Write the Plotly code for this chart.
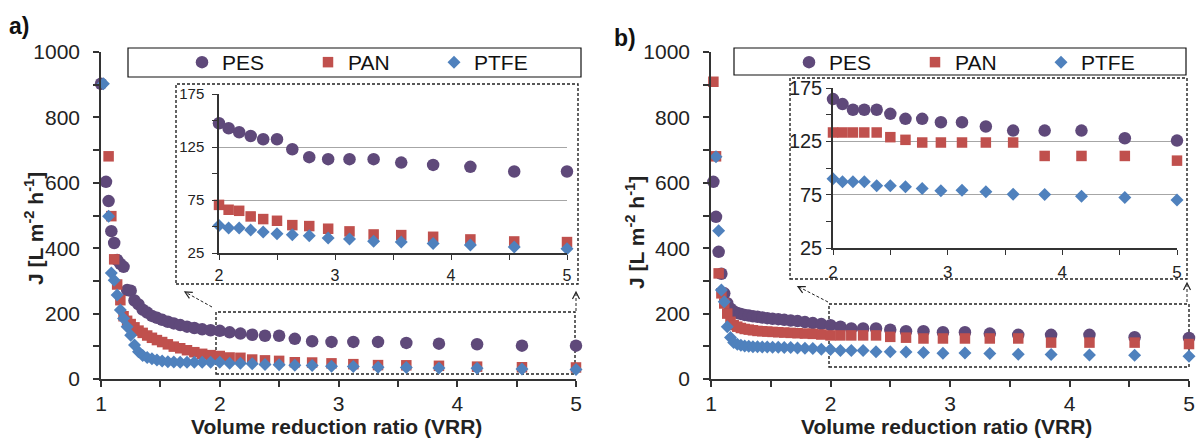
import math
import plotly.graph_objects as go

W, H = 1196, 438

# ---------------- data ----------------
VRR = [1.000, 1.020, 1.042, 1.064, 1.087, 1.111, 1.136, 1.163, 1.190, 1.220,
       1.250, 1.282, 1.316, 1.351, 1.389, 1.429, 1.471, 1.515, 1.563, 1.613,
       1.667, 1.724, 1.786, 1.852, 1.923, 2.000, 2.083, 2.174, 2.273, 2.381,
       2.500, 2.632, 2.778, 2.941, 3.125, 3.333, 3.571, 3.846, 4.167, 4.545,
       5.000]

# panel a)
PES_A = [903, None, 603, 544, 452, 416, 364, 352, 343, 272,
         270, 240, 228, 212, 203, 193, 187, 181, 175, 170,
         165, 160, 156, 152, 149, 147.4, 142.7, 138.9, 135.4, 132.3,
         132.3, 122.9, 115.4, 113.5, 113.5, 113.5, 110.3, 108.1, 106.3, 101.9,
         101.9]
PAN_A = [None, None, None, 681, 498, 366, 289, 241, 192, 178,
         168, 158, 148, 141, 133, 126, 119, 113, 106, 99,
         94, 88, 82, 77, 73, 70.4, 65.8, 64.8, 59.5, 57.0,
         55.4, 51.3, 50.4, 47.9, 45.4, 42.5, 41.9, 40.3, 37.8, 35.9,
         35.3]
PTFE_A = [None, 903, None, 498, 324, 302, 257, 211, 185, 160,
          134, 104, 83, 72, 66, 62, 58, 55, 53, 52,
          51, 51, 51, 51, 51, 51.0, 48.5, 48.5, 46.6, 44.7,
          43.2, 42.2, 41.3, 39.1, 38.2, 36.0, 35.3, 34.0, 32.5, 30.6,
          29.0]

# panel b)
PES_B = [None, 603, 496, 389, 322, 262, 232, 215, 207, 202,
         199, 196, 194, 192, 190, 188, 186, 184, 183, 181,
         179, 177, 174, 171, 168, 164.6, 159.9, 154.6, 154.6, 154.6,
         150.8, 146.1, 146.1, 142.9, 142.9, 138.9, 135.1, 135.1, 135.1, 127.9,
         125.7]
PAN_B = [None, 909, 681, 323, 262, 231, 200, 175, 165, 160,
         156, 153, 151, 149, 147, 146, 145, 144, 143, 142,
         141, 140, 139, 138, 136, 133.3, 133.3, 133.3, 133.3, 133.3,
         128.9, 126.4, 123.9, 123.9, 123.9, 123.9, 123.9, 111.3, 111.3, 111.3,
         106.9]
PTFE_B = [None, None, 680, 453, 272, 236, 160, 127, 112, 106,
          103, 101, 100, 99, 99, 98, 98, 97, 97, 96,
          96, 95, 94, 93, 91, 89.9, 87.1, 87.1, 87.1, 83.3,
          83.3, 82.4, 80.8, 78.6, 79.2, 77.7, 75.5, 75.2, 73.6, 72.4,
          69.9]

SERIES = ["PES", "PAN", "PTFE"]
INSET_FROM = 25  # first index shown in the zoomed inset (VRR = 2)

X_TICKS_MAIN = [1, 2, 3, 4, 5]
Y_TICKS_MAIN = [0, 200, 400, 600, 800, 1000]
X_TICKS_INSET = [2, 3, 4, 5]
Y_TICKS_INSET = [25, 75, 125, 175]

# ---------------- style ----------------
FONT = "Liberation Sans, Arial, sans-serif"
COLORS = {"PES": "#5F497A", "PAN": "#C0504D", "PTFE": "#4F81BD"}
SYMBOLS = {"PES": "circle", "PAN": "square", "PTFE": "diamond"}
SIZES = {"PES": 12.5, "PAN": 10.5, "PTFE": 10}
AXC = "#333333"
TXT = "#222222"


def fx(p):
    return p / W


def fy(p):
    return 1 - p / H


fig = go.Figure()

panels = [
    ({"PES": PES_A, "PAN": PAN_A, "PTFE": PTFE_A}, "x", "y", "x3", "y3", "legend"),
    ({"PES": PES_B, "PAN": PAN_B, "PTFE": PTFE_B}, "x2", "y2", "x4", "y4", "legend2"),
]

for data, xm, ym, xi, yi, leg in panels:
    for s in SERIES:
        fig.add_trace(go.Scatter(
            x=VRR, y=data[s], mode="markers", name=s, legend=leg,
            xaxis=xm, yaxis=ym, cliponaxis=False,
            marker=dict(symbol=SYMBOLS[s], color=COLORS[s], size=SIZES[s], line=dict(width=0)),
        ))
    for s in SERIES:
        fig.add_trace(go.Scatter(
            x=VRR[INSET_FROM:], y=data[s][INSET_FROM:], mode="markers", name=s,
            showlegend=False, xaxis=xi, yaxis=yi, cliponaxis=False,
            marker=dict(symbol=SYMBOLS[s], color=COLORS[s], size=SIZES[s], line=dict(width=0)),
        ))


def main_x(dom, anchor):
    return dict(domain=dom, anchor=anchor, range=[1, 5], tickvals=X_TICKS_MAIN, automargin=False,
                showline=True, linecolor=AXC, linewidth=1.5, ticks="outside", ticklen=6,
                tickcolor=AXC, tickwidth=1.5, showgrid=False, zeroline=False,
                tickfont=dict(size=21, color=TXT), ticklabelstandoff=-1,
                minor=dict(dtick=0.5, tick0=1, ticks="outside", ticklen=6, tickcolor=AXC, tickwidth=1.5))


def main_y(dom, anchor):
    return dict(domain=dom, anchor=anchor, range=[0, 1000], tickvals=Y_TICKS_MAIN, automargin=False,
                showline=True, linecolor=AXC, linewidth=1.5, ticks="outside", ticklen=6,
                tickcolor=AXC, tickwidth=1.5, showgrid=False, zeroline=False,
                tickfont=dict(size=21, color=TXT), ticklabelstandoff=9,
                minor=dict(dtick=100, tick0=0, ticks="outside", ticklen=6, tickcolor=AXC, tickwidth=1.5))


def inset_x(dom, anchor, fs, so):
    return dict(domain=dom, anchor=anchor, range=[2, 5], tickvals=X_TICKS_INSET, automargin=False,
                showline=True, linecolor=AXC, linewidth=1.5, ticks="outside", ticklen=5,
                tickcolor=AXC, tickwidth=1.2, showgrid=False, zeroline=False,
                tickfont=dict(size=fs, color=TXT), ticklabelstandoff=so,
                minor=dict(dtick=0.5, tick0=2, ticks="outside", ticklen=5, tickcolor=AXC, tickwidth=1.2))


def inset_y(dom, anchor, fs, so):
    return dict(domain=dom, anchor=anchor, range=[25, 175], tickvals=Y_TICKS_INSET, automargin=False,
                showline=True, linecolor=AXC, linewidth=1.5, ticks="outside", ticklen=5,
                tickcolor=AXC, tickwidth=1.2, showgrid=True, gridcolor="#a6a6a6", gridwidth=1.3,
                zeroline=False, tickfont=dict(size=fs, color=TXT), ticklabelstandoff=so,
                minor=dict(dtick=25, tick0=25, ticks="outside", ticklen=5, tickcolor=AXC,
                           tickwidth=1.2, showgrid=False))


fig.update_layout(
    width=W, height=H, margin=dict(l=0, r=0, t=0, b=0, autoexpand=False),
    paper_bgcolor="white", plot_bgcolor="rgba(0,0,0,0)",
    font=dict(family=FONT, color=TXT),
    xaxis=main_x([fx(101), fx(576)], "y"),
    yaxis=main_y([fy(379), fy(52)], "x"),
    xaxis2=main_x([fx(711), fx(1189)], "y2"),
    yaxis2=main_y([fy(379), fy(52)], "x2"),
    xaxis3=inset_x([fx(219), fx(567)], "y3", 16, 2),
    yaxis3=inset_y([fy(253), fy(94)], "x3", 15, 5),
    xaxis4=inset_x([fx(833), fx(1177)], "y4", 17, 3),
    yaxis4=inset_y([fy(248), fy(88)], "x4", 20, 0),
    legend=dict(orientation="h", x=fx(182), xanchor="left", y=fy(62.5), yanchor="middle",
                font=dict(size=21, color="#111111"), bgcolor="rgba(0,0,0,0)",
                entrywidth=81, itemsizing="trace", tracegroupgap=0),
    legend2=dict(orientation="h", x=fx(789), xanchor="left", y=fy(62.5), yanchor="middle",
                 font=dict(size=21, color="#111111"), bgcolor="rgba(0,0,0,0)",
                 entrywidth=81, itemsizing="trace", tracegroupgap=0),
    showlegend=True,
)

shapes = []
# legend boxes
for (x0, y0, x1, y1) in [(128, 48, 581, 77), (734, 48, 1186, 75)]:
    shapes.append(dict(type="rect", xref="paper", yref="paper", x0=fx(x0), x1=fx(x1),
                       y0=fy(y1), y1=fy(y0), line=dict(color="#111111", width=1.2),
                       fillcolor="rgba(0,0,0,0)", layer="below"))
# dashed boxes (inset frames and zoom regions)
for (x0, y0, x1, y1) in [(176, 84, 578, 284), (790, 78, 1187, 279),
                         (216, 312, 575, 374), (829, 304, 1189, 367)]:
    shapes.append(dict(type="rect", xref="paper", yref="paper", x0=fx(x0), x1=fx(x1),
                       y0=fy(y1), y1=fy(y0), line=dict(color="#222222", width=1.4, dash="3px,2px"),
                       fillcolor="rgba(0,0,0,0)", layer="below"))
# dashed arrows (tail -> tip) with open chevron heads
for (x0, y0, x1, y1) in [(212, 307, 185, 292), (576, 311, 576, 292),
                         (828, 302, 798, 286.5), (1187, 302, 1187, 283)]:
    shapes.append(dict(type="line", xref="paper", yref="paper", x0=fx(x0), x1=fx(x1),
                       y0=fy(y0), y1=fy(y1), line=dict(color="#222222", width=1, dash="3px,2px")))
    dx, dy = x1 - x0, y1 - y0
    L = math.hypot(dx, dy)
    ux, uy = dx / L, dy / L
    px_, py_ = -uy, ux
    bx, by = x1 - 7 * ux, y1 - 7 * uy
    a1 = (bx + 3.5 * px_, by + 3.5 * py_)
    a2 = (bx - 3.5 * px_, by - 3.5 * py_)
    path = "M {} {} L {} {} L {} {}".format(fx(a1[0]), fy(a1[1]), fx(x1), fy(y1), fx(a2[0]), fy(a2[1]))
    shapes.append(dict(type="path", xref="paper", yref="paper", path=path,
                       line=dict(color="#222222", width=1.2)))
fig.update_layout(shapes=shapes)

ann = []
# axis titles
for cx in [336, 946]:
    ann.append(dict(xref="paper", yref="paper", x=fx(cx), y=fy(426), showarrow=False,
                    text="<b>Volume reduction ratio (VRR)</b>", font=dict(size=21, color=TXT),
                    xanchor="center", yanchor="middle"))
for (cx, cy) in [(34, 229), (635, 233)]:
    ann.append(dict(xref="paper", yref="paper", x=fx(cx), y=fy(cy), showarrow=False,
                    text="<b>J [L m<sup>-2</sup> h<sup>-1</sup>]</b>", textangle=-90,
                    font=dict(size=21, color=TXT), xanchor="center", yanchor="middle"))
for (lab, cx, cy) in [("a)", 19, 26), ("b)", 625, 38)]:
    ann.append(dict(xref="paper", yref="paper", x=fx(cx), y=fy(cy), showarrow=False,
                    text="<b>" + lab + "</b>", font=dict(size=23, color="#111111"),
                    xanchor="center", yanchor="middle"))
fig.update_layout(annotations=ann)

fig.write_html("out.html", config={"displayModeBar": False},
               post_script="document.body.style.margin='0';")
